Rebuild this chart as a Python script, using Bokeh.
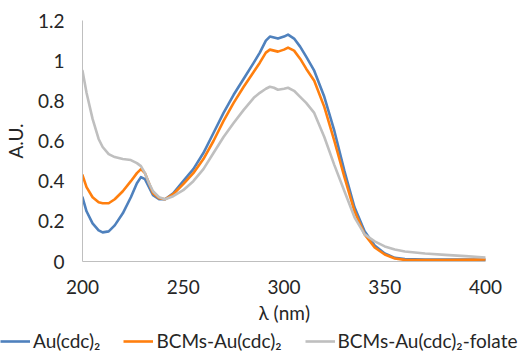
from bokeh.plotting import figure
from bokeh.layouts import column
from bokeh.models import Legend, LegendItem, FixedTicker, CustomJSTickFormatter, Range1d
from bokeh.embed import file_html
from bokeh.resources import INLINE

wavelength = [200, 202, 205, 208, 210, 213, 216, 220, 224, 227, 229, 231, 233, 235, 238, 241,
              245, 250, 255, 260, 265, 270, 275, 280, 285, 288, 291, 293, 295, 297, 300, 302,
              305, 308, 311, 315, 320, 325, 330, 335, 340, 345, 350, 355, 360, 370, 380, 390, 400]

au_cdc2 = [0.32, 0.25, 0.19, 0.155, 0.145, 0.15, 0.18, 0.24, 0.32, 0.39, 0.42, 0.41, 0.37, 0.33, 0.31, 0.31,
           0.34, 0.40, 0.46, 0.54, 0.64, 0.74, 0.83, 0.91, 0.99, 1.04, 1.10, 1.12, 1.115, 1.11, 1.12, 1.13,
           1.11, 1.07, 1.02, 0.95, 0.82, 0.65, 0.45, 0.27, 0.15, 0.08, 0.04, 0.018, 0.012, 0.01, 0.01, 0.01, 0.008]

bcms_au_cdc2 = [0.43, 0.37, 0.32, 0.295, 0.29, 0.29, 0.31, 0.35, 0.40, 0.44, 0.46, 0.44, 0.39, 0.34, 0.315, 0.31,
                0.335, 0.385, 0.44, 0.51, 0.60, 0.70, 0.79, 0.87, 0.945, 0.99, 1.04, 1.055, 1.05, 1.045, 1.055, 1.065,
                1.05, 1.01, 0.96, 0.90, 0.77, 0.60, 0.42, 0.25, 0.135, 0.07, 0.035, 0.015, 0.008, 0.007, 0.007, 0.008, 0.01]

bcms_au_cdc2_folate = [0.95, 0.84, 0.71, 0.61, 0.57, 0.535, 0.52, 0.51, 0.505, 0.49, 0.475, 0.44, 0.39, 0.35, 0.32, 0.31,
                       0.325, 0.355, 0.40, 0.46, 0.54, 0.62, 0.69, 0.755, 0.815, 0.84, 0.86, 0.87, 0.865, 0.855, 0.86, 0.865,
                       0.85, 0.82, 0.79, 0.74, 0.62, 0.48, 0.35, 0.22, 0.135, 0.10, 0.075, 0.06, 0.05, 0.04, 0.033, 0.027, 0.02]

series_labels = ["Au(cdc)\u2082", "BCMs-Au(cdc)\u2082", "BCMs-Au(cdc)\u2082-folate"]
series_colors = ["#4F81BD", "#FF7F0E", "#BFBFBF"]
x_ticks = [200, 250, 300, 350, 400]
y_ticks = [0, 0.2, 0.4, 0.6, 0.8, 1.0, 1.2]
series = [au_cdc2, bcms_au_cdc2, bcms_au_cdc2_folate]

FONT = "Lato"
TXT = "#262626"

p = figure(width=518, height=329, output_backend="svg", toolbar_location=None,
           x_range=Range1d(200, 400), y_range=Range1d(0, 1.2),
           min_border_left=81, min_border_right=33, min_border_top=20, min_border_bottom=68)
p.frame_align = False
p.outline_line_color = None
p.xgrid.visible = False
p.ygrid.visible = False

for ys, c in zip(series, series_colors):
    p.line(wavelength, ys, line_color=c, line_width=2.6, line_join="round", line_cap="round")

for ax in (p.xaxis[0], p.yaxis[0]):
    ax.axis_line_color = "#BFBFBF"
    ax.axis_line_width = 1
    ax.major_tick_line_color = None
    ax.minor_tick_line_color = None
    ax.major_tick_out = 0
    ax.major_tick_in = 0
    ax.major_label_text_font = FONT
    ax.major_label_text_font_size = "19px"
    ax.major_label_text_color = TXT
    ax.axis_label_text_font = FONT
    ax.axis_label_text_font_size = "19px"
    ax.axis_label_text_font_style = "normal"
    ax.axis_label_text_color = TXT

p.xaxis.ticker = FixedTicker(ticks=x_ticks)
p.yaxis.ticker = FixedTicker(ticks=y_ticks)
p.yaxis.formatter = CustomJSTickFormatter(code="return (Math.round(tick*10)/10).toString();")
p.xaxis.major_label_standoff = 18
p.yaxis.major_label_standoff = 18
p.xaxis.axis_label = "λ (nm)"
p.yaxis.axis_label = "A.U."
p.xaxis.axis_label_standoff = 4
p.yaxis.axis_label_standoff = 8

# legend strip below the chart (series drawn outside its ranges, only the legend shows)
lg = figure(width=518, height=23, output_backend="svg", toolbar_location=None,
            x_range=Range1d(0, 1), y_range=Range1d(-1, 0),
            min_border_left=0, min_border_right=0, min_border_top=0, min_border_bottom=0)
lg.frame_align = False
lg.axis.visible = False
lg.grid.visible = False
lg.outline_line_color = None
items = []
for lab, ys, c in zip(series_labels, series, series_colors):
    r = lg.line(wavelength, ys, line_color=c, line_width=2.6)
    items.append(LegendItem(label=lab, renderers=[r]))
legend = Legend(items=items, orientation="horizontal", location=(0, 0),
                glyph_width=30, glyph_height=22, label_standoff=3, spacing=23,
                padding=0, margin=0, border_line_color=None, background_fill_alpha=0,
                label_text_font=FONT, label_text_font_size="19px", label_text_color=TXT)
lg.add_layout(legend, "center")

layout = column(p, lg, spacing=0)
open("out.html", "w").write(file_html(layout, INLINE))
